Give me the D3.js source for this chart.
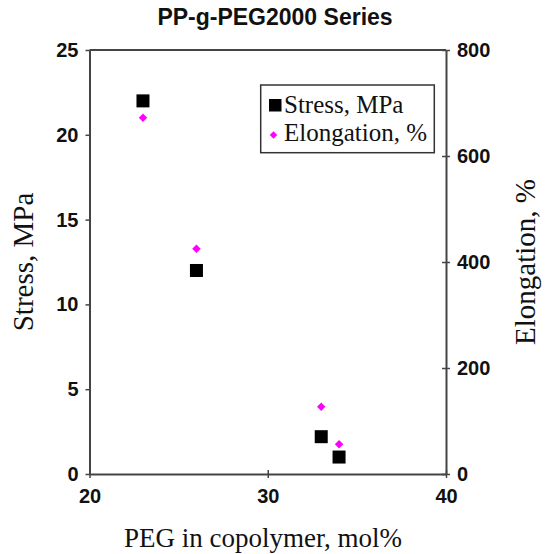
<!DOCTYPE html>
<html>
<head>
<meta charset="utf-8">
<script src="https://cdn.jsdelivr.net/npm/d3@7"></script>
<style>
  body { margin: 0; background: #fff; }
  .tick text { font-family: "Liberation Sans", Arial, sans-serif; font-weight: bold; font-size: 20px; fill: #111; }
  .serif { font-family: "Liberation Serif", "Times New Roman", serif; fill: #111; }
</style>
</head>
<body>
<div id="chart"></div>
<script>
// values
const peg = [23, 26, 33, 34];          // PEG in copolymer, mol%
const stress = [22, 12, 2.2, 1];       // MPa
const elongation = [672, 425, 127, 56]; // %

const xTicks = [20, 30, 40];
const stressTicks = [0, 5, 10, 15, 20, 25];
const elongTicks = [0, 200, 400, 600, 800];

const width = 545, height = 554;
const plotLeft = 89.5, plotRight = 446, plotTop = 50, plotBottom = 474;
const axisColor = "#444";

let svg = d3.select("#chart").append("svg")
  .attr("width", width)
  .attr("height", height);

let x = d3.scaleLinear().domain([20, 40]).range([plotLeft, plotRight]);
let yL = d3.scaleLinear().domain([0, 25]).range([plotBottom, plotTop]);
let yR = d3.scaleLinear().domain([0, 800]).range([plotBottom, plotTop]);

// top frame line
svg.append("line")
  .attr("x1", plotLeft).attr("x2", plotRight)
  .attr("y1", plotTop).attr("y2", plotTop)
  .attr("stroke", axisColor).attr("stroke-width", 2);

// axes
function styleAxis(g) {
  g.select(".domain").attr("stroke", axisColor).attr("stroke-width", 2);
  g.selectAll(".tick line").attr("stroke", axisColor).attr("stroke-width", 1.5);
}

svg.append("g")
  .attr("transform", "translate(" + plotLeft + ",0)")
  .call(d3.axisLeft(yL).tickValues(stressTicks).tickSize(4).tickSizeOuter(0).tickPadding(7))
  .call(styleAxis);

let rAxis = svg.append("g")
  .attr("transform", "translate(" + plotRight + ",0)")
  .call(d3.axisRight(yR).tickValues(elongTicks).tickSize(4).tickSizeOuter(0).tickPadding(7))
  .call(styleAxis);
rAxis.selectAll(".tick line").attr("x1", -4);

let bAxis = svg.append("g")
  .attr("transform", "translate(0," + plotBottom + ")")
  .call(d3.axisBottom(x).tickValues(xTicks).tickSize(4).tickSizeOuter(0).tickPadding(11))
  .call(styleAxis);
bAxis.selectAll(".tick line").attr("y1", -4);

// title
svg.append("text")
  .attr("x", 275).attr("y", 25)
  .attr("text-anchor", "middle")
  .style("font-family", "'Liberation Sans', Arial, sans-serif")
  .style("font-weight", "bold")
  .style("font-size", "23px")
  .style("fill", "#111")
  .text("PP-g-PEG2000 Series");

// axis titles
svg.append("text")
  .attr("class", "serif")
  .attr("x", 263).attr("y", 547)
  .attr("text-anchor", "middle")
  .style("font-size", "27px")
  .text("PEG in copolymer, mol%");

svg.append("text")
  .attr("class", "serif")
  .attr("transform", "translate(33," + (plotTop + plotBottom) / 2 + ") rotate(-90)")
  .attr("text-anchor", "middle")
  .style("font-size", "29px")
  .text("Stress, MPa");

svg.append("text")
  .attr("class", "serif")
  .attr("transform", "translate(535," + (plotTop + plotBottom) / 2 + ") rotate(-90)")
  .attr("text-anchor", "middle")
  .style("font-size", "29px")
  .text("Elongation, %");

// points
let sq = 13;
svg.append("g").selectAll("rect")
  .data(peg)
  .enter()
  .append("rect")
  .attr("x", (d) => x(d) - sq / 2)
  .attr("y", (d, i) => yL(stress[i]) - sq / 2)
  .attr("width", sq)
  .attr("height", sq)
  .attr("fill", "#000");

let diamond = d3.symbol().type(d3.symbolSquare).size(36);
svg.append("g").selectAll("path")
  .data(peg)
  .enter()
  .append("path")
  .attr("d", diamond)
  .attr("transform", (d, i) => "translate(" + x(d) + "," + yR(elongation[i]) + ") rotate(45)")
  .attr("fill", "#ff00ff");

// legend
let legend = svg.append("g");
legend.append("rect")
  .attr("x", 260.7).attr("y", 85)
  .attr("width", 173.6).attr("height", 67.7)
  .attr("fill", "#fff")
  .attr("stroke", "#333")
  .attr("stroke-width", 1.5);
legend.append("rect")
  .attr("x", 269).attr("y", 99)
  .attr("width", 12.5).attr("height", 12.5)
  .attr("fill", "#000");
legend.append("path")
  .attr("d", d3.symbol().type(d3.symbolSquare).size(28))
  .attr("transform", "translate(273.5,135) rotate(45)")
  .attr("fill", "#ff00ff");
legend.append("text")
  .attr("class", "serif")
  .attr("x", 284).attr("y", 113)
  .style("font-size", "25px")
  .text("Stress, MPa");
legend.append("text")
  .attr("class", "serif")
  .attr("x", 284).attr("y", 141)
  .style("font-size", "25px")
  .text("Elongation, %");
</script>
</body>
</html>
